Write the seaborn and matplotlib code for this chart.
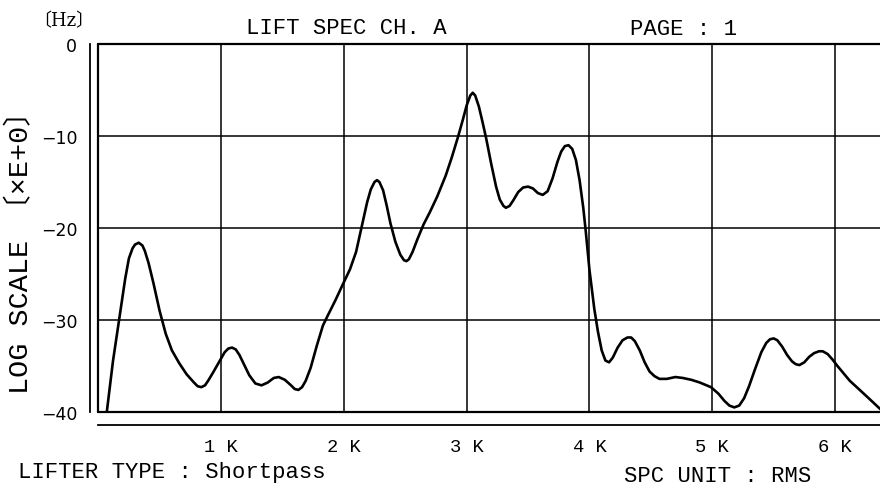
import matplotlib
matplotlib.use("Agg")
import matplotlib.pyplot as plt
import seaborn as sns
import pandas as pd

# Spectrum trace: frequency in kHz, level in log-scale units
freq_k = [0.07, 0.12, 0.17, 0.22, 0.25, 0.28, 0.30, 0.33, 0.36, 0.38,
          0.41, 0.45, 0.50, 0.55, 0.60, 0.66, 0.72, 0.78, 0.81, 0.84,
          0.87, 0.90, 0.94, 1.00, 1.03, 1.06, 1.09, 1.12, 1.15, 1.19,
          1.23, 1.28, 1.33, 1.38, 1.43, 1.47, 1.52, 1.57, 1.60, 1.63,
          1.66, 1.69, 1.73, 1.78, 1.83, 1.87, 1.93, 2.00, 2.05, 2.10,
          2.15, 2.19, 2.22, 2.25, 2.27, 2.29, 2.32, 2.35, 2.38, 2.42,
          2.46, 2.49, 2.51, 2.53, 2.56, 2.60, 2.65, 2.70, 2.76, 2.83,
          2.88, 2.93, 2.97, 3.00, 3.03, 3.05, 3.07, 3.10, 3.13, 3.16,
          3.20, 3.24, 3.27, 3.30, 3.32, 3.35, 3.38, 3.42, 3.46, 3.50,
          3.54, 3.58, 3.62, 3.66, 3.70, 3.74, 3.77, 3.80, 3.83, 3.86,
          3.89, 3.92, 3.95, 3.97, 4.00, 4.04, 4.07, 4.10, 4.13, 4.16,
          4.19, 4.23, 4.27, 4.31, 4.34, 4.37, 4.41, 4.45, 4.49, 4.53,
          4.57, 4.63, 4.70, 4.76, 4.83, 4.90, 4.99, 5.05, 5.10, 5.14,
          5.18, 5.22, 5.26, 5.30, 5.35, 5.40, 5.44, 5.47, 5.50, 5.53,
          5.57, 5.61, 5.65, 5.68, 5.71, 5.75, 5.79, 5.83, 5.87, 5.90,
          5.94, 5.98, 6.02, 6.12, 6.25, 6.37]
level = [-40.0, -34.5, -30.0, -25.5, -23.3, -22.2, -21.8, -21.6, -21.9, -22.5,
         -23.8, -26.0, -29.0, -31.5, -33.3, -34.7, -35.9, -36.8, -37.2, -37.3,
         -37.1, -36.5, -35.6, -34.2, -33.5, -33.1, -33.0, -33.2, -33.8, -34.9,
         -36.0, -36.9, -37.1, -36.8, -36.3, -36.2, -36.5, -37.1, -37.5, -37.6,
         -37.3, -36.6, -35.2, -32.8, -30.6, -29.5, -27.9, -25.9, -24.5, -22.6,
         -19.6, -17.2, -15.8, -15.0, -14.8, -15.0, -15.9, -17.6, -19.5, -21.5,
         -22.9, -23.5, -23.6, -23.4, -22.6, -21.2, -19.6, -18.3, -16.6, -14.3,
         -12.3, -10.1, -8.2, -6.7, -5.6, -5.3, -5.6, -6.8, -8.5, -10.3,
         -13.0, -15.5, -16.9, -17.6, -17.8, -17.6, -17.0, -16.1, -15.6, -15.5,
         -15.7, -16.2, -16.4, -16.0, -14.6, -12.8, -11.7, -11.1, -11.0, -11.4,
         -12.6, -14.8, -17.8, -20.3, -24.5, -28.8, -31.3, -33.3, -34.4, -34.6,
         -34.1, -33.0, -32.2, -31.9, -31.9, -32.3, -33.3, -34.6, -35.6, -36.1,
         -36.4, -36.4, -36.2, -36.3, -36.5, -36.8, -37.3, -38.0, -38.8, -39.3,
         -39.5, -39.3, -38.5, -37.2, -35.3, -33.5, -32.5, -32.1, -32.0, -32.2,
         -32.9, -33.8, -34.5, -34.8, -34.9, -34.6, -34.0, -33.6, -33.4, -33.4,
         -33.7, -34.3, -35.0, -36.6, -38.2, -39.7]

x_ticks = [0, 1, 2, 3, 4, 5, 6]
x_tick_labels = ["", "1 K", "2 K", "3 K", "4 K", "5 K", "6 K"]
y_ticks = [0, -10, -20, -30, -40]
y_tick_labels = ["0", "\u221210", "\u221220", "\u221230", "\u221240"]

sns.set_style("white")
mono = ["Liberation Mono", "Noto Sans CJK JP", "DejaVu Sans"]
plt.rcParams["font.family"] = mono

W, H = 880, 489
fig = plt.figure(figsize=(W / 100, H / 100), dpi=100)
x0, y_top, y_bot = 98.2, 45, 413
ax = fig.add_axes([x0 / W, 1 - y_bot / H, 1 - x0 / W, (y_bot - y_top) / H])

df = pd.DataFrame({"freq": freq_k, "level": level})
sns.lineplot(data=df, x="freq", y="level", ax=ax, color="black", lw=1.9,
             zorder=5)

ax.set_xlim(0, (W - x0) / 122.8)
ax.set_ylim(-40, 0)

# grid lines inside the plotting frame
for v in x_ticks[1:]:
    ax.axvline(v, color="black", lw=1.1, zorder=2)
for v in [-10, -20, -30]:
    ax.axhline(v, color="black", lw=1.1, zorder=2)
# plotting frame
ax.axhline(0, color="black", lw=1.6, clip_on=False, zorder=3)
ax.axhline(-40, color="black", lw=1.6, clip_on=False, zorder=3)
ax.axvline(0, color="black", lw=1.6, clip_on=False, zorder=3)

for side in ["top", "right"]:
    ax.spines[side].set_visible(False)
ax.spines["left"].set_position(("outward", 6))
ax.spines["bottom"].set_position(("outward", 9))
for side in ["left", "bottom"]:
    ax.spines[side].set_linewidth(1.3)
    ax.spines[side].set_color("black")

ax.set_xticks(x_ticks)
ax.set_xticklabels(x_tick_labels)
ax.set_yticks(y_ticks)
ax.set_yticklabels(y_tick_labels)
ax.tick_params(axis="y", direction="out", length=5, width=1.2, pad=4,
               labelsize=12.5, colors="black")
ax.tick_params(axis="x", direction="out", length=6, width=1.2, pad=4,
               labelsize=13.5, colors="black")
for lab in ax.get_yticklabels():
    lab.set_family("DejaVu Sans")
ax.set_xlabel("")
ax.set_ylabel("")


def put(px, py, s, **kw):
    fig.text(px / W, 1 - py / H, s, color="black", **kw)


put(64, 26, "\u3014Hz\u3015", ha="center", va="baseline", fontsize=13,
    family=["DejaVu Serif", "Noto Sans CJK JP"])
put(346, 33.5, "LIFT SPEC CH. A", ha="center", va="baseline", fontsize=16)
put(684, 35, "PAGE : 1", ha="center", va="baseline", fontsize=16)
put(21, 246, "LOG SCALE \u3014\u00d7E+0\u3015", ha="center", va="center",
    rotation=90, fontsize=20.5)
put(18, 478, "LIFTER TYPE : Shortpass", ha="left", va="baseline", fontsize=16)
put(718, 482, "SPC UNIT : RMS", ha="center", va="baseline", fontsize=16)

fig.savefig("out.png", dpi=100)
